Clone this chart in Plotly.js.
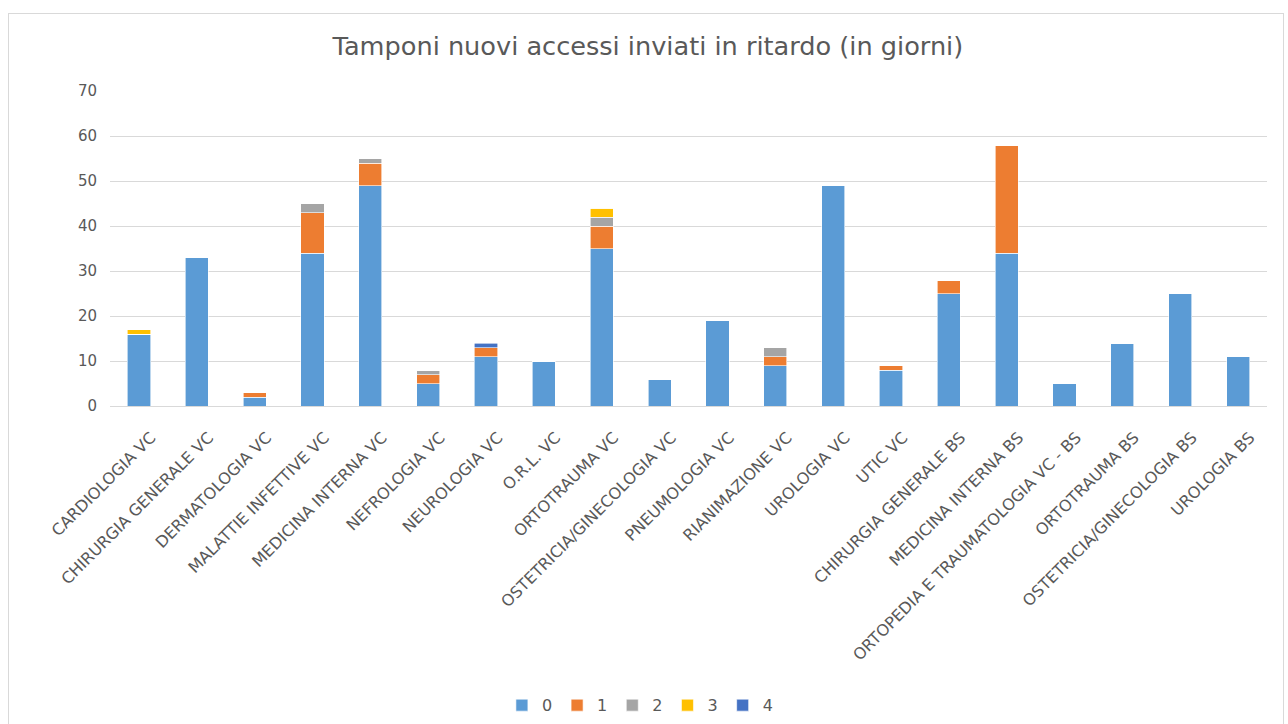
<!DOCTYPE html>
<html>
<head>
<meta charset="utf-8">
<script src="https://cdn.plot.ly/plotly-3.0.1.min.js"></script>
<style>
html,body{margin:0;padding:0;background:#fff;overflow:hidden;width:1288px;height:724px;}
#frame{position:absolute;left:8px;top:13px;width:1276px;height:711px;border:1px solid #d9d9d9;border-bottom:none;box-sizing:border-box;}
#chart{position:absolute;left:0;top:0;width:1288px;height:724px;}
</style>
</head>
<body>
<div id="frame"></div>
<div id="chart"></div>
<script>
const categories = [
  "CARDIOLOGIA VC","CHIRURGIA GENERALE VC","DERMATOLOGIA VC","MALATTIE INFETTIVE VC",
  "MEDICINA INTERNA VC","NEFROLOGIA VC","NEUROLOGIA VC","O.R.L. VC","ORTOTRAUMA VC",
  "OSTETRICIA/GINECOLOGIA VC","PNEUMOLOGIA VC","RIANIMAZIONE VC","UROLOGIA VC","UTIC VC",
  "CHIRURGIA GENERALE BS","MEDICINA INTERNA BS","ORTOPEDIA E TRAUMATOLOGIA VC - BS",
  "ORTOTRAUMA BS","OSTETRICIA/GINECOLOGIA BS","UROLOGIA BS"
];
const series0 = [16,33,2,34,49,5,11,10,35,6,19,9,49,8,25,34,5,14,25,11];
const series1 = [0,0,1,9,5,2,2,0,5,0,0,2,0,1,3,24,0,0,0,0];
const series2 = [0,0,0,2,1,1,0,0,2,0,0,2,0,0,0,0,0,0,0,0];
const series3 = [1,0,0,0,0,0,0,0,2,0,0,0,0,0,0,0,0,0,0,0];
const series4 = [0,0,0,0,0,0,1,0,0,0,0,0,0,0,0,0,0,0,0,0];
const seriesNames = ["0","1","2","3","4"];
const seriesColors = ["#5B9BD5","#ED7D31","#A5A5A5","#FFC000","#4472C4"];
const allSeries = [series0,series1,series2,series3,series4];

const FONT = "'DejaVu Sans', sans-serif";
const traces = allSeries.map((s,i)=>({
  type:"bar",
  name:seriesNames[i],
  x:categories,
  y:s,
  marker:{color:seriesColors[i], line:{color:"#ffffff", width:0.6}},
  hoverinfo:"x+y+name"
}));

const layout = {
  width:1288, height:724,
  paper_bgcolor:"rgba(0,0,0,0)",
  plot_bgcolor:"rgba(0,0,0,0)",
  barmode:"stack",
  bargap:0.6,
  margin:{l:110,r:21,t:91,b:318,autoexpand:false},
  title:{text:"Tamponi nuovi accessi inviati in ritardo (in giorni)", x:0.503, xref:"container", xanchor:"center", y:0.937, yanchor:"middle",
         font:{family:FONT, size:25.6, color:"#595959"}},
  xaxis:{type:"category", tickangle:-45, tickfont:{family:FONT, size:16, color:"#595959"},
         showgrid:false, showline:true, linecolor:"#d9d9d9", linewidth:1, ticks:"", automargin:false,
         ticklabelstandoff:15, ticklabelshift:12},
  yaxis:{range:[0,70], dtick:10, tickfont:{family:FONT, size:15, color:"#595959"},
         gridcolor:"#d9d9d9", gridwidth:1, zeroline:false, showline:false, ticks:"", ticklabelstandoff:12, automargin:false},
  legend:{orientation:"h", x:0.458, xanchor:"center", y:-0.95, yanchor:"middle",
          font:{family:FONT, size:16, color:"#595959"}, itemwidth:30, traceorder:"normal"},
  showlegend:true
};
Plotly.newPlot("chart", traces, layout, {displayModeBar:false, staticPlot:true});
</script>
</body>
</html>
